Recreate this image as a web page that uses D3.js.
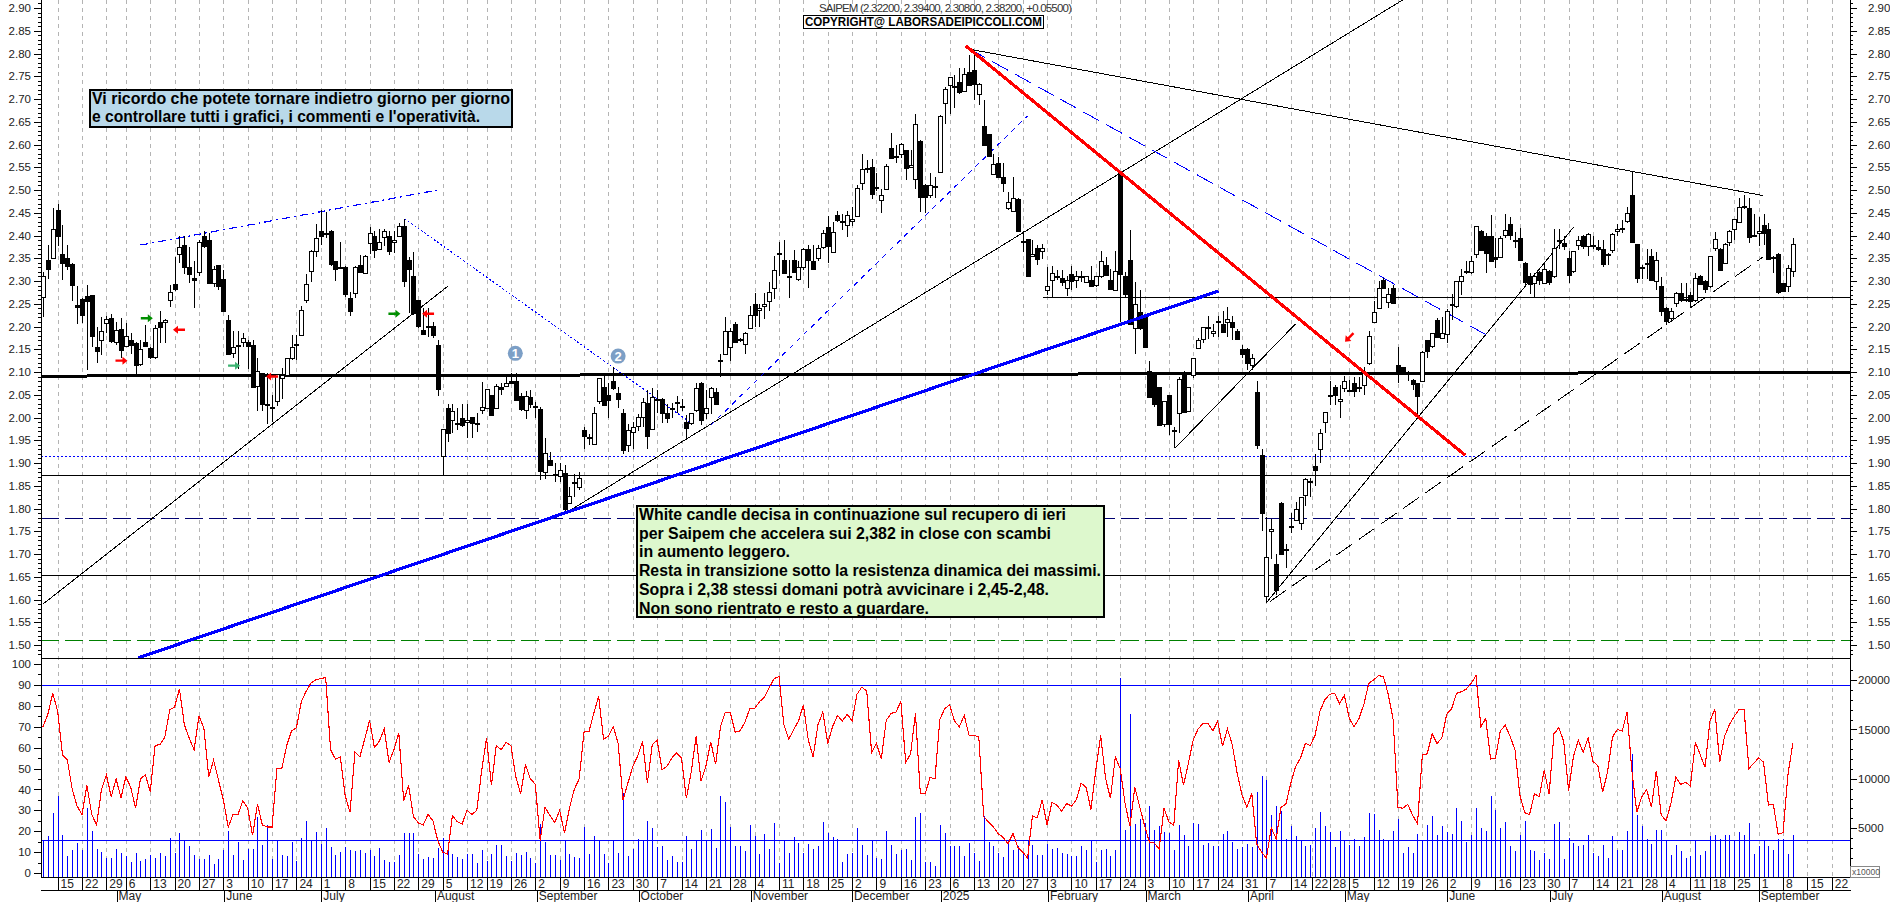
<!DOCTYPE html>
<html>
<head>
<meta charset="utf-8">
<title>SAIPEM</title>
<script src="https://cdn.jsdelivr.net/npm/d3@7"></script>
<style>
html,body{margin:0;padding:0;background:#fff;overflow:hidden}
svg{display:block}
text{font-family:"Liberation Sans",Arial,sans-serif}
.axis text{font-size:11.5px;fill:#222}
.axis path,.axis line{stroke:#000;shape-rendering:crispEdges}
.grid{stroke:#b4b4b4;stroke-dasharray:4 4;shape-rendering:crispEdges}
.hline{fill:none;shape-rendering:crispEdges}
.box{shape-rendering:crispEdges}
.trend{fill:none;shape-rendering:crispEdges}
.wick{stroke:#000;shape-rendering:crispEdges}
.body{stroke:#000;shape-rendering:crispEdges}
.vol{stroke:#0000ff;shape-rendering:crispEdges}
.note{font-weight:bold;font-size:16px;fill:#000}
</style>
</head>
<body>
<div id="chart"></div>
<script>
/* candles, one entry per trading day */
var opens = [2.263,2.347,2.352,2.455,2.36,2.35,2.337,2.247,2.26,2.267,2.27,2.154,2.17,2.207,2.218,2.165,2.195,2.158,2.17,2.163,2.116,2.165,2.152,2.134,2.21,2.209,2.258,2.293,2.358,2.38,2.331,2.307,2.32,2.4,2.39,2.295,2.335,2.305,2.215,2.14,2.16,2.165,2.165,2.16,2.07,2.098,2.03,2.02,2.035,2.088,2.093,2.13,2.162,2.183,2.257,2.322,2.367,2.41,2.406,2.41,2.345,2.33,2.33,2.263,2.272,2.335,2.318,2.383,2.4,2.37,2.397,2.4,2.385,2.398,2.42,2.347,2.31,2.258,2.193,2.2,2.2,2.16,1.915,2.02,1.995,1.988,1.998,1.99,2.0,1.988,2.015,2.022,2.05,2.022,2.068,2.068,2.08,2.08,2.048,2.018,2.045,2.025,2.018,1.882,1.907,1.875,1.872,1.878,1.812,1.858,1.848,1.972,1.958,1.942,2.035,2.068,2.05,2.08,2.053,2.01,1.94,
1.968,1.98,2.003,2.032,1.975,2.038,2.04,2.01,2.018,2.03,2.026,1.99,1.987,2.016,2.075,2.01,2.045,2.056,2.124,2.14,2.155,2.205,2.172,2.16,2.197,2.25,2.235,2.245,2.255,2.285,2.36,2.347,2.31,2.347,2.303,2.33,2.37,2.345,2.35,2.375,2.418,2.365,2.445,2.431,2.423,2.432,2.443,2.516,2.548,2.55,2.506,2.476,2.503,2.593,2.574,2.578,2.587,2.552,2.525,2.607,2.51,2.49,2.507,2.54,2.692,2.73,2.728,2.738,2.716,2.76,2.763,2.71,2.64,2.622,2.535,2.56,2.528,2.46,2.454,2.48,2.389,2.392,2.355,2.372,2.365,2.282,2.303,2.311,2.307,2.284,2.316,2.302,2.312,2.296,2.303,2.29,2.31,2.335,2.302,2.282,2.537,2.31,2.347,2.198,2.232,2.225,2.103,2.096,2.068,1.985,2.05,1.973,2.009,2.098,2.014,2.093,2.152,2.172,2.197,2.185,2.213,2.205,2.21,2.21,2.19,2.15,2.15,2.115,2.056,
1.918,1.607,1.75,1.677,1.813,1.71,1.76,1.775,1.767,1.83,1.86,1.893,1.93,1.99,2.05,2.067,2.035,2.065,2.06,2.075,2.068,2.072,2.12,2.21,2.24,2.303,2.255,2.285,2.115,2.11,2.098,2.083,2.075,2.082,2.17,2.157,2.215,2.175,2.185,2.249,2.246,2.3,2.321,2.32,2.358,2.41,2.4,2.4,2.352,2.353,2.4,2.425,2.391,2.395,2.34,2.31,2.295,2.32,2.295,2.323,2.31,2.391,2.383,2.35,2.32,2.38,2.4,2.376,2.379,2.375,2.37,2.359,2.367,2.41,2.416,2.431,2.49,2.381,2.331,2.339,2.354,2.3,2.29,2.24,2.22,2.25,2.273,2.261,2.27,2.258,2.312,2.3,2.287,2.372,2.37,2.34,2.385,2.415,2.431,2.464,2.461,2.401,2.406,2.424,2.415,2.353,2.36,2.295,2.288,2.322];
var highs = [2.32,2.38,2.46,2.47,2.423,2.38,2.34,2.289,2.262,2.291,2.27,2.2,2.22,2.222,2.227,2.21,2.218,2.208,2.185,2.167,2.17,2.203,2.155,2.203,2.234,2.217,2.291,2.353,2.4,2.4,2.375,2.345,2.39,2.41,2.405,2.332,2.335,2.325,2.225,2.19,2.19,2.185,2.17,2.17,2.13,2.098,2.098,2.05,2.095,2.108,2.13,2.182,2.182,2.245,2.315,2.368,2.425,2.455,2.452,2.413,2.345,2.385,2.332,2.276,2.332,2.357,2.357,2.418,2.41,2.415,2.415,2.41,2.41,2.427,2.437,2.353,2.364,2.258,2.24,2.24,2.21,2.17,1.975,2.03,2.03,2.02,2.03,2.03,2.0,2.01,2.077,2.063,2.05,2.073,2.075,2.088,2.098,2.098,2.053,2.058,2.06,2.034,2.022,1.955,1.925,1.9,1.9,1.895,1.848,1.875,1.88,1.98,1.964,2.022,2.086,2.095,2.075,2.112,2.068,2.018,1.985,
1.991,2.008,2.042,2.06,2.064,2.06,2.042,2.03,2.032,2.048,2.04,2.005,2.01,2.075,2.079,2.06,2.067,2.064,2.14,2.22,2.197,2.209,2.175,2.187,2.245,2.273,2.25,2.273,2.297,2.356,2.385,2.39,2.347,2.368,2.343,2.372,2.38,2.38,2.38,2.412,2.442,2.43,2.453,2.447,2.453,2.462,2.51,2.58,2.567,2.568,2.537,2.502,2.558,2.625,2.6,2.604,2.587,2.587,2.666,2.609,2.514,2.538,2.528,2.664,2.727,2.749,2.752,2.768,2.768,2.797,2.805,2.735,2.698,2.624,2.58,2.572,2.56,2.495,2.528,2.482,2.41,2.392,2.39,2.38,2.382,2.33,2.332,2.325,2.325,2.31,2.334,2.322,2.322,2.312,2.334,2.312,2.365,2.353,2.326,2.367,2.541,2.32,2.412,2.298,2.28,2.225,2.125,2.098,2.068,2.036,2.05,1.98,2.09,2.102,2.068,2.13,2.174,2.2,2.222,2.205,2.224,2.235,2.243,2.222,2.194,2.16,2.152,2.14,2.08,
1.93,1.782,1.778,1.70,1.815,1.722,1.79,1.815,1.825,1.867,1.867,1.92,1.975,2.013,2.08,2.072,2.072,2.092,2.083,2.09,2.09,2.11,2.19,2.257,2.3,2.307,2.285,2.292,2.155,2.11,2.102,2.085,2.075,2.147,2.17,2.185,2.218,2.22,2.238,2.272,2.3,2.327,2.345,2.355,2.421,2.412,2.406,2.445,2.395,2.398,2.447,2.441,2.408,2.417,2.342,2.317,2.317,2.322,2.34,2.325,2.415,2.414,2.4,2.365,2.366,2.398,2.402,2.405,2.4,2.39,2.39,2.362,2.405,2.426,2.435,2.462,2.541,2.382,2.336,2.37,2.37,2.364,2.308,2.242,2.24,2.275,2.295,2.295,2.275,2.318,2.313,2.303,2.355,2.407,2.372,2.383,2.411,2.437,2.482,2.489,2.483,2.447,2.44,2.447,2.427,2.354,2.361,2.296,2.335,2.394];
var lows = [2.22,2.305,2.35,2.377,2.302,2.325,2.256,2.205,2.207,2.105,2.155,2.12,2.137,2.185,2.163,2.16,2.13,2.155,2.14,2.093,2.114,2.155,2.128,2.128,2.163,2.163,2.243,2.277,2.34,2.316,2.295,2.24,2.31,2.373,2.293,2.287,2.28,2.233,2.138,2.13,2.107,2.156,2.107,2.068,2.015,2.015,1.986,1.99,2.026,2.04,2.09,2.126,2.126,2.182,2.252,2.298,2.352,2.38,2.395,2.332,2.3,2.327,2.265,2.223,2.262,2.318,2.316,2.36,2.35,2.368,2.378,2.358,2.362,2.397,2.287,2.23,2.226,2.197,2.184,2.178,2.175,2.047,1.873,1.947,1.967,1.973,1.98,1.955,1.955,1.968,2.008,2.02,2.004,2.02,2.05,2.066,2.074,2.037,2.015,1.996,2.02,1.998,1.862,1.865,1.897,1.858,1.858,1.79,1.81,1.825,1.84,1.93,1.94,1.94,2.03,2.026,2.0,2.06,2.02,1.92,1.925,
1.93,1.97,1.98,1.93,1.972,2.01,1.987,1.987,1.998,2.01,2.015,1.95,1.983,2.012,1.983,1.996,2.007,2.03,2.09,2.137,2.125,2.164,2.165,2.14,2.197,2.2,2.2,2.217,2.235,2.26,2.31,2.318,2.262,2.318,2.3,2.325,2.285,2.328,2.343,2.37,2.339,2.365,2.43,2.412,2.397,2.42,2.44,2.5,2.537,2.48,2.497,2.45,2.5,2.57,2.56,2.57,2.522,2.552,2.502,2.452,2.45,2.482,2.482,2.538,2.645,2.668,2.68,2.712,2.716,2.73,2.698,2.687,2.596,2.572,2.533,2.526,2.495,2.456,2.452,2.409,2.363,2.31,2.353,2.335,2.348,2.27,2.265,2.302,2.29,2.267,2.28,2.285,2.298,2.295,2.29,2.286,2.306,2.31,2.28,2.28,2.21,2.262,2.204,2.14,2.193,2.153,2.044,2.022,1.983,1.98,1.962,1.932,1.965,2.01,2.012,2.087,2.152,2.163,2.172,2.178,2.178,2.186,2.176,2.17,2.17,2.13,2.105,2.105,1.93,
1.75,1.595,1.69,1.61,1.698,1.67,1.747,1.773,1.753,1.805,1.826,1.85,1.90,1.965,2.028,2.028,2.0,2.057,2.056,2.046,2.056,2.05,2.115,2.208,2.238,2.283,2.24,2.25,2.075,2.095,2.08,2.06,2.0,2.08,2.13,2.152,2.175,2.174,2.163,2.215,2.24,2.27,2.315,2.316,2.35,2.365,2.318,2.343,2.328,2.352,2.395,2.39,2.373,2.345,2.288,2.272,2.265,2.292,2.294,2.292,2.307,2.37,2.369,2.295,2.318,2.368,2.37,2.355,2.37,2.365,2.33,2.335,2.362,2.398,2.405,2.428,2.387,2.295,2.305,2.305,2.3,2.28,2.224,2.203,2.215,2.242,2.254,2.254,2.24,2.254,2.293,2.274,2.285,2.365,2.321,2.338,2.377,2.39,2.43,2.459,2.383,2.396,2.377,2.379,2.348,2.318,2.271,2.276,2.276,2.308];
var closes = [2.31,2.327,2.415,2.397,2.34,2.333,2.29,2.242,2.224,2.255,2.18,2.145,2.19,2.216,2.167,2.192,2.148,2.18,2.16,2.114,2.15,2.157,2.133,2.197,2.2,2.214,2.275,2.283,2.374,2.332,2.316,2.302,2.385,2.377,2.295,2.326,2.288,2.235,2.14,2.154,2.157,2.174,2.156,2.068,2.102,2.03,2.028,2.022,2.095,2.094,2.13,2.155,2.16,2.237,2.293,2.365,2.395,2.4,2.404,2.337,2.327,2.327,2.27,2.235,2.33,2.32,2.355,2.405,2.37,2.385,2.41,2.367,2.39,2.42,2.3,2.328,2.228,2.2,2.185,2.198,2.18,2.063,1.975,1.966,2.015,1.986,1.982,1.995,1.987,1.987,2.022,2.063,2.005,2.07,2.063,2.075,2.075,2.038,2.02,2.048,2.03,2.024,1.882,1.923,1.897,1.874,1.885,1.798,1.828,1.857,1.867,1.958,1.956,2.01,2.086,2.028,2.04,2.065,2.04,1.928,1.972,
1.98,2.0,2.035,1.96,2.046,2.041,2.01,2.0,2.02,2.033,2.025,1.977,2.01,2.064,1.993,2.02,2.065,2.03,2.126,2.19,2.19,2.165,2.171,2.185,2.225,2.225,2.24,2.25,2.275,2.325,2.361,2.318,2.309,2.32,2.33,2.37,2.345,2.328,2.373,2.405,2.376,2.408,2.433,2.43,2.445,2.436,2.505,2.547,2.546,2.49,2.505,2.488,2.553,2.572,2.572,2.6,2.547,2.556,2.645,2.484,2.484,2.512,2.508,2.663,2.723,2.748,2.727,2.716,2.754,2.732,2.732,2.733,2.598,2.573,2.557,2.53,2.515,2.473,2.483,2.41,2.387,2.31,2.36,2.348,2.372,2.29,2.318,2.309,2.298,2.302,2.3,2.31,2.311,2.31,2.29,2.31,2.343,2.312,2.282,2.323,2.315,2.27,2.206,2.25,2.197,2.155,2.045,2.03,1.985,2.036,1.987,1.971,2.084,2.012,2.066,2.13,2.17,2.198,2.198,2.19,2.212,2.187,2.217,2.2,2.172,2.14,2.12,2.13,1.94,
1.79,1.693,1.754,1.62,1.70,1.709,1.761,1.80,1.825,1.865,1.859,1.885,1.965,2.012,2.049,2.05,2.04,2.08,2.059,2.057,2.067,2.1,2.18,2.232,2.285,2.285,2.272,2.252,2.095,2.097,2.095,2.075,2.047,2.145,2.145,2.185,2.177,2.185,2.235,2.247,2.3,2.31,2.319,2.345,2.42,2.368,2.363,2.345,2.347,2.395,2.412,2.4,2.39,2.346,2.298,2.293,2.31,2.303,2.326,2.298,2.372,2.39,2.376,2.312,2.365,2.39,2.378,2.403,2.377,2.37,2.337,2.357,2.403,2.415,2.414,2.449,2.387,2.307,2.329,2.337,2.302,2.346,2.235,2.212,2.235,2.273,2.258,2.259,2.257,2.307,2.295,2.283,2.354,2.392,2.323,2.382,2.41,2.437,2.463,2.462,2.397,2.399,2.41,2.406,2.35,2.351,2.276,2.278,2.328,2.382];
/* oscillator (0-100), same bars */
var oscValues = [70,76,86,77.5,56.5,54,40,32,28,42,28,23,40,47,36.5,45,36,46,41,31,45,47,39,61,61.5,65,78,79.5,88,71,64.5,59,75,69.5,46,54,44.5,35,22,28,28,34.5,31,18,33,23,22,22,50,50,61,68,69.5,82,87,91,92.5,93,93.5,59,54.5,55.5,37,29,58,55.5,64,73,60,63,69,53,59,67,34.5,42,27,24,23,28,25,15.5,10,9,27.5,24.5,23.5,30,28,30,49,64.5,42,61,59,62.5,61,46,38,52,45,42.5,15.5,31.5,27.5,24,30,19,31,40,45,67.5,67.5,76.5,84.5,64,65.5,70,62,35,43,
51,56,63,43,61.5,63.5,49.5,51,55,57.5,55,35.7,48.5,65.5,44,51,62.7,52,70,77,76.7,67.4,68,72,78.6,78.6,82,84,88.7,93,94,71,64,68.6,72.7,80.4,63.8,55.5,71,77,62,70,75.4,72.7,76,72.7,85.5,89,87,57.7,62,54.5,73,76.4,77,82,53,57,76.4,38,38,45.7,45,73.5,78.6,80.5,72.7,70,75.4,65.8,66,65,27,24.4,22,18.8,17,14,19,12.4,10,7.2,27.3,26.4,35,23,33.8,32.5,29.6,33.3,32,35,43,41,30.4,49.4,65.8,45.3,35.7,55.5,50,33.3,22.3,41,31.7,22.8,14.8,14.3,11.6,31,24.4,22.8,54,42,52.6,63.8,69,71.5,71.5,68,72.7,60.6,69,61.4,47.7,37.3,31.4,38,14,
10,7.2,21.5,16.4,31.4,33,43,51,55,62,61,66,77.5,83,85.5,86,81,85,74,70,74,80.7,90.7,92.4,94.4,94,85.5,73.5,31.4,31,32.8,27.7,23.6,56.6,57,66.6,62,64.6,76,78.6,86,86.7,88,90.7,94.4,70,74,54.5,55,68,70.7,65.4,59,37.3,28.8,28,38,36.5,49.4,37.6,66.6,69.5,63,39.4,55.8,63.5,57.7,64.6,53.4,51.4,38.6,48.5,65,68.6,68,77,48.5,29,36.5,40,31.4,49,27.7,25,33.3,45.7,42.4,43.4,41.6,62.5,56.6,50.6,72.7,78.3,53,65.4,71,75,78.3,78.3,50,52.6,55,53,32.5,32.8,18.5,19.3,47,62];
/* volume, right hand axis x10000 */
var volValues = [3820,4220,6520,8210,4320,2200,2800,3480,2800,7030,4730,2910,2600,1990,1990,2870,2530,2130,1550,2530,1690,1890,2260,1990,2500,2130,3990,2470,4490,3650,3210,2300,1860,1860,2300,1350,1860,2800,4730,2300,3580,1790,2870,2870,6120,3310,5340,1890,3750,2300,2200,3580,1690,3990,5750,3750,4600,3380,5000,3080,2300,2600,3080,2800,2700,2800,2530,2800,2130,2970,1790,1520,1550,2300,4490,4490,4490,2370,1890,2060,1960,2970,3990,3080,2400,2060,1860,2370,2370,1450,2800,1690,2370,3310,3310,2130,1720,2470,2300,2600,1960,1420,5440,3580,2300,2300,1790,3750,2370,2060,1960,5070,2400,4220,3750,2400,1420,3750,2470,8550,2200,
2910,3890,3820,5750,5040,3040,3210,1790,2130,1590,1590,4220,2910,3650,4830,3820,4930,2970,8280,7600,5100,3210,3140,2700,5340,4220,2400,4430,2910,5510,1450,3720,2470,4090,3480,2470,3380,2910,3210,5610,4490,4090,3890,1550,2400,2530,5000,3310,2300,3820,1960,1860,4730,3310,2400,2740,2910,1790,6120,6520,1550,1550,1180,5340,4490,3140,3210,3210,2130,3480,2470,1690,6250,3620,3140,2470,2060,3380,2800,3140,2400,3820,3310,2300,2300,3410,2910,3010,2470,2370,2200,2200,3140,2800,3820,1590,2800,2910,2130,2800,20200,4830,16600,5410,5950,5510,7200,4770,5240,4560,4490,2800,5340,4330,3140,5510,5440,3310,3480,3210,3210,4430,4730,3620,2910,3040,3380,3040,8620,
10310,9840,6350,7270,6760,3890,5170,4220,3750,3240,3310,5040,6660,5170,4630,3040,4730,3790,3310,3890,3140,4090,6520,6460,4830,3890,3650,4730,5950,2470,3080,2470,4430,3650,5340,6250,4330,5240,4560,4430,7030,5750,3550,4290,7030,5040,4730,8280,6860,5040,5640,3140,2640,4330,5750,2800,2700,1790,2530,1890,5440,5640,1890,3950,3480,3210,3310,4330,2530,2130,3310,1930,4220,2800,2800,4730,12540,6290,5170,3920,3410,4830,4770,3820,2230,3310,2640,1930,2130,3750,2230,2700,4160,4330,3920,4330,4330,3750,4630,4330,5510,2400,3140,3650,3140,2800,3920,3920,2400,4330];

/* axes */
var priceTicks = d3.range(150,295,5).map(function(d){return d/100;});
var priceMinorTicks = d3.range(148,292,1).map(function(d){return d/100;});
var oscTicks = [0,10,20,30,40,50,60,70,80,90,100];
var oscMinorTicks = [5,15,25,35,45,55,65,75,85,95];
var volTicks = [5000,10000,15000,20000];
var volMinorTicks = [1000,2000,3000,4000,6000,7000,8000,9000,11000,12000,13000,14000,16000,17000,18000,19000,21000];
var weekBars = [3,8,13,17,22,27,32,37,42,47,52,57,62,67,72,77,82,87,91,96,101,106,111,116,121,126,131,136,141,146,151,156,161,166,171,176,181,186,191,196,201,206,211,216,221,226,231,236,241,246,251,256,260.3,264,268,273,278,283,288,293,298,303,308,313,318,323,328,333,338,342,347,352,357,362,367];
var weekLabels = ["15","22","29","6","13","20","27","3","10","17","24","1","8","15","22","29","5","12","19","26","2","9","16","23","30","7","14","21","28","4","11","18","25","2","9","16","23","6","13","20","27","3","10","17","24","3","10","17","24","31","7","14","22","28","5","12","19","26","2","9","16","23","30","7","14","21","28","4","11","18","25","1","8","15","22"];
var monthBars = [15.1,37.2,57.1,80.4,101.3,122.2,145.2,166,184.2,206.2,226.2,247.2,267.1,288.1,309.1,332.1,352];
var monthLabels = ["May","June","July","August","September","October","November","December","2025","February","March","April","May","June","July","August","September"];

/* drawn levels and trend lines, [bar, price] */
var thickLevel = [[-0.5,2.091],[371,2.099]];
var shortLevel = [[205.2,2.264],[371,2.264]];
var dottedLevel = 1.915, solidLevelA = 1.873, dashedLevel = 1.78, solidLevelB = 1.654, greenLevel = 1.51;
var oscLevels = [90,16];
var blueThick = [[19.6,1.472],[241.2,2.278]];
var redThick = [[189.3,2.817],[291.8,1.917]];
var blackTop = [[189.3,2.811],[352.8,2.488]];
var blackLeft = [[0,1.59],[83,2.288]];
var blackLong = [[108,1.795],[279,2.918]];
var blackMar = [[232.2,1.932],[257,2.206]];
var blackApr = [[251,1.593],[314,2.418]];
var blackAprDashed = [[251.8,1.596],[352.8,2.352]];
var blueLongDash = [[190.1,2.81],[297.4,2.174]];
var blueDashDot = [[20,2.379],[81,2.5]];
var blueDotted = [[74.2,2.437],[133.2,1.986]];
var blueShortDash = [[137,1.983],[202,2.663]];

/* marker arrows [bar, price, rotation] and numbered circles */
var redArrows = [[16.1,2.125,0],[27.9,2.193,180],[47,2.09,180],[79,2.228,180],[268,2.176,135]];
var greenArrows = [[21.3,2.218,0],[72.1,2.228,0]];
var tealArrows = [[39.2,2.114,0]];
var circleBars = [96.9,118], circlePrices = [2.141,2.135], circleLabels = ["1","2"];

var note1Lines = ["Vi ricordo che potete tornare indietro giorno per giorno","e controllare tutti i grafici, i commenti e l'operatività."];
var note2Lines = ["White candle decisa in continuazione sul recupero di ieri","per  Saipem che accelera sui 2,382 in close con scambi","in aumento leggero.","Resta in transizione sotto la resistenza dinamica dei massimi.","Sopra i 2,38 stessi domani potrà avvicinare i 2,45-2,48.","Non sono rientrato e resto a guardare."];
var titleText = "SAIPEM (2.32200, 2.39400, 2.30800, 2.38200, +0.05500)";
var copyrightText = "COPYRIGHT@ LABORSADEIPICCOLI.COM";

var width = 1890, height = 902;
var left = 41, right = 1850, panelBottom = 658, axisTop = 877;

var x = d3.scaleLinear().domain([0,359]).range([43,1792.8]);
var y = d3.scaleLinear().domain([1.5,2.9]).range([645,8]);
var yOsc = d3.scaleLinear().domain([0,100]).range([873,664]);
var yVol = d3.scaleLinear().domain([0,20000]).range([877.5,680]);

var svg = d3.select("#chart").append("svg").attr("width",width).attr("height",height);
svg.append("clipPath").attr("id","priceClip").append("rect")
	.attr("x",left).attr("y",0).attr("width",right-left).attr("height",panelBottom);

/* week grid */
svg.append("g").selectAll("line").data(weekBars).enter().append("line")
	.attr("class","grid")
	.attr("x1",function(d){return Math.round(x(d));})
	.attr("x2",function(d){return Math.round(x(d));})
	.attr("y1",0).attr("y2",axisTop);

/* levels */
var levels = svg.append("g").attr("clip-path","url(#priceClip)");
function level(price,color,dash){
	levels.append("line").attr("class","hline")
		.attr("x1",left).attr("x2",right)
		.attr("y1",Math.round(y(price))+0.5).attr("y2",Math.round(y(price))+0.5)
		.attr("stroke",color).attr("stroke-width",1)
		.attr("stroke-dasharray",dash);
}
level(dottedLevel,"#0000ff","2 2");
level(solidLevelA,"#000",null);
level(dashedLevel,"#000070","18 6");
level(solidLevelB,"#000",null);
level(greenLevel,"#008000","18 6");

var lineGen = d3.line().x(function(d){return x(d[0]);}).y(function(d){return y(d[1]);});
function trend(points,color,w,dash){
	levels.append("path").attr("class","trend").attr("d",lineGen(points))
		.attr("stroke",color).attr("stroke-width",w).attr("stroke-dasharray",dash);
}
trend(blackLeft,"#000",1,null);
trend(blackLong,"#000",1,null);
trend(blackMar,"#000",1,null);
trend(blackApr,"#000",1,null);
trend(blackAprDashed,"#000",1,"19 8");
trend(blackTop,"#000",1,null);
trend(thickLevel,"#000",3,null);
trend(shortLevel,"#000",1,null);
trend(blueLongDash,"#0000ff",1,"18 8");
trend(blueDashDot,"#0000ff",1.2,"8 4 2 4");
trend(blueDotted,"#0000ff",1,"2 2");
trend(blueShortDash,"#0000ff",1,"5 5");

/* candles */
var bars = d3.range(opens.length);
var candles = svg.append("g");
candles.selectAll("line").data(bars).enter().append("line").attr("class","wick")
	.attr("x1",function(i){return Math.round(x(i))+0.5;})
	.attr("x2",function(i){return Math.round(x(i))+0.5;})
	.attr("y1",function(i){return y(highs[i]);})
	.attr("y2",function(i){return y(lows[i]);});
candles.selectAll("rect").data(bars).enter().append("rect").attr("class","body")
	.attr("x",function(i){return Math.round(x(i))-1.5;})
	.attr("width",4)
	.attr("y",function(i){return Math.round(y(Math.max(opens[i],closes[i])))+0.5;})
	.attr("height",function(i){return Math.max(1,Math.round(Math.abs(y(opens[i])-y(closes[i]))));})
	.attr("fill",function(i){return closes[i]>=opens[i] ? "#fff" : "#000";});

/* thick lines go over the candles */
var top_lines = svg.append("g").attr("clip-path","url(#priceClip)");
top_lines.append("path").attr("class","trend").attr("d",lineGen(blueThick)).attr("stroke","#0000ff").attr("stroke-width",3.2);
top_lines.append("path").attr("class","trend").attr("d",lineGen(redThick)).attr("stroke","#ff0000").attr("stroke-width",3.2);

/* arrows */
function arrows(data,color){
	svg.append("g").selectAll("path").data(data).enter().append("path")
		.attr("d","M-6,-1.2H1V-4L6,0L1,4V1.2H-6Z")
		.attr("fill",color)
		.attr("transform",function(d){return "translate("+x(d[0])+","+y(d[1])+") rotate("+d[2]+")";});
}
arrows(redArrows,"#ff0000");
arrows(greenArrows,"#008f00");
arrows(tealArrows,"#3cb371");

/* numbered circles */
var circles = svg.append("g").selectAll("g").data(circleBars).enter().append("g")
	.attr("transform",function(d,i){return "translate("+x(d)+","+y(circlePrices[i])+")";});
circles.append("circle").attr("r",7.5).attr("fill","#7c9fc6");
circles.append("text").attr("text-anchor","middle").attr("y",4.5).attr("fill","#fff")
	.attr("font-size",13).attr("font-weight","bold")
	.text(function(d,i){return circleLabels[i];});

/* lower panel */
var lower = svg.append("g");
lower.selectAll("line").data(bars).enter().append("line").attr("class","vol")
	.attr("x1",function(i){return Math.round(x(i))+0.5;})
	.attr("x2",function(i){return Math.round(x(i))+0.5;})
	.attr("y1",yVol(0))
	.attr("y2",function(i){return yVol(volValues[i]);});
lower.selectAll("line.osc").data(oscLevels).enter().append("line").attr("class","hline osc")
	.attr("x1",left).attr("x2",right)
	.attr("y1",function(d){return Math.round(yOsc(d))+0.5;})
	.attr("y2",function(d){return Math.round(yOsc(d))+0.5;})
	.attr("stroke","#0000ff").attr("stroke-width",1.2);
lower.append("path").attr("class","trend")
	.attr("d",d3.line().x(function(d,i){return x(i);}).y(function(d){return yOsc(d);})(oscValues))
	.attr("stroke","#ff0000").attr("stroke-width",1.1);

/* panel separators */
svg.append("line").attr("x1",left).attr("x2",right).attr("y1",panelBottom+0.5).attr("y2",panelBottom+0.5)
	.attr("stroke","#000").attr("class","hline");

/* axes */
function minor(axisFn,scale,values,size,tx){
	svg.append("g").attr("class","axis minor").attr("transform","translate("+tx+",0)")
		.call(axisFn(scale).tickValues(values).tickSize(size).tickFormat(""))
		.select(".domain").remove();
}
svg.append("g").attr("class","axis").attr("transform","translate("+left+",0)")
	.call(d3.axisLeft(y).tickValues(priceTicks).tickSize(7).tickFormat(d3.format(".2f")))
	.select(".domain").remove();
svg.append("g").attr("class","axis").attr("transform","translate("+right+",0)")
	.call(d3.axisRight(y).tickValues(priceTicks).tickSize(7).tickPadding(11).tickFormat(d3.format(".2f")))
	.select(".domain").remove();
minor(d3.axisLeft,y,priceMinorTicks,3,left);
minor(d3.axisRight,y,priceMinorTicks,3,right);
svg.append("g").attr("class","axis").attr("transform","translate("+left+",0)")
	.call(d3.axisLeft(yOsc).tickValues(oscTicks).tickSize(7))
	.select(".domain").remove();
minor(d3.axisLeft,yOsc,oscMinorTicks,3,left);
svg.append("g").attr("class","axis").attr("transform","translate("+right+",0)")
	.call(d3.axisRight(yVol).tickValues(volTicks).tickSize(7).tickPadding(1).tickFormat(d3.format("d")))
	.select(".domain").remove();
minor(d3.axisRight,yVol,volMinorTicks,3,right);

svg.append("line").attr("x1",left+0.5).attr("x2",left+0.5).attr("y1",0).attr("y2",axisTop).attr("stroke","#000").attr("class","hline");
svg.append("line").attr("x1",right+0.5).attr("x2",right+0.5).attr("y1",0).attr("y2",axisTop).attr("stroke","#000").attr("class","hline");

/* date axis */
svg.append("line").attr("x1",left).attr("x2",right+1).attr("y1",axisTop+0.5).attr("y2",axisTop+0.5).attr("stroke","#000").attr("class","hline");
svg.append("line").attr("x1",left).attr("x2",right+1).attr("y1",890.5).attr("y2",890.5).attr("stroke","#000").attr("class","hline");
var dates = svg.append("g");
dates.selectAll("line.week").data(weekBars).enter().append("line").attr("class","hline week")
	.attr("x1",function(d){return Math.round(x(d))+0.5;})
	.attr("x2",function(d){return Math.round(x(d))+0.5;})
	.attr("y1",axisTop).attr("y2",890).attr("stroke","#000");
dates.selectAll("text.week").data(weekBars).enter().append("text").attr("class","week")
	.attr("x",function(d){return x(d)+3;}).attr("y",888)
	.attr("font-size",12).attr("fill","#222")
	.text(function(d,i){return weekLabels[i];});
dates.selectAll("line.month").data(monthBars).enter().append("line").attr("class","hline month")
	.attr("x1",function(d){return Math.round(x(d))+0.5;})
	.attr("x2",function(d){return Math.round(x(d))+0.5;})
	.attr("y1",890).attr("y2",902).attr("stroke","#000");
dates.selectAll("text.month").data(monthBars).enter().append("text").attr("class","month")
	.attr("x",function(d){return x(d)+2;}).attr("y",899.5)
	.attr("font-size",12).attr("fill","#222")
	.text(function(d,i){return monthLabels[i];});

/* x10000 tag */
svg.append("rect").attr("x",1850.5).attr("y",866.5).attr("width",29).attr("height",10.5)
	.attr("fill","#fff").attr("stroke","#888").attr("class","box");
svg.append("text").attr("x",1852).attr("y",875).attr("font-size",8.5).attr("fill","#555").text("x10000");

/* title and notes */
svg.append("text").attr("x",819).attr("y",12).attr("font-size",11.5).attr("fill","#333")
	.attr("textLength",253).text(titleText);
svg.append("rect").attr("x",803.5).attr("y",15.5).attr("width",240).attr("height",13)
	.attr("fill","#fff").attr("stroke","#000").attr("class","box");
svg.append("text").attr("x",805).attr("y",26).attr("font-size",12.5).attr("font-weight","bold")
	.attr("textLength",237).attr("lengthAdjust","spacingAndGlyphs").text(copyrightText);

function note(bx,by,bw,bh,fill,lines,baselines,sx,widths){
	svg.append("rect").attr("x",bx).attr("y",by).attr("width",bw).attr("height",bh)
		.attr("fill",fill).attr("stroke","#000").attr("stroke-width",2).attr("class","box");
	svg.append("g").selectAll("text").data(lines).enter().append("text").attr("class","note")
		.attr("x",sx).attr("y",function(d,i){return baselines[i];})
		.attr("textLength",function(d,i){return widths[i];})
		.attr("lengthAdjust","spacingAndGlyphs")
		.text(function(d){return d;});
}
note(90,90,422,37,"#b9d9ea",note1Lines,[104,122],92,[418,388]);
note(637,506,467,111,"#ddf8cd",note2Lines,[520,539,557,576,595,614],639,[427,412,151,462,410,290]);
</script>
</body>
</html>
